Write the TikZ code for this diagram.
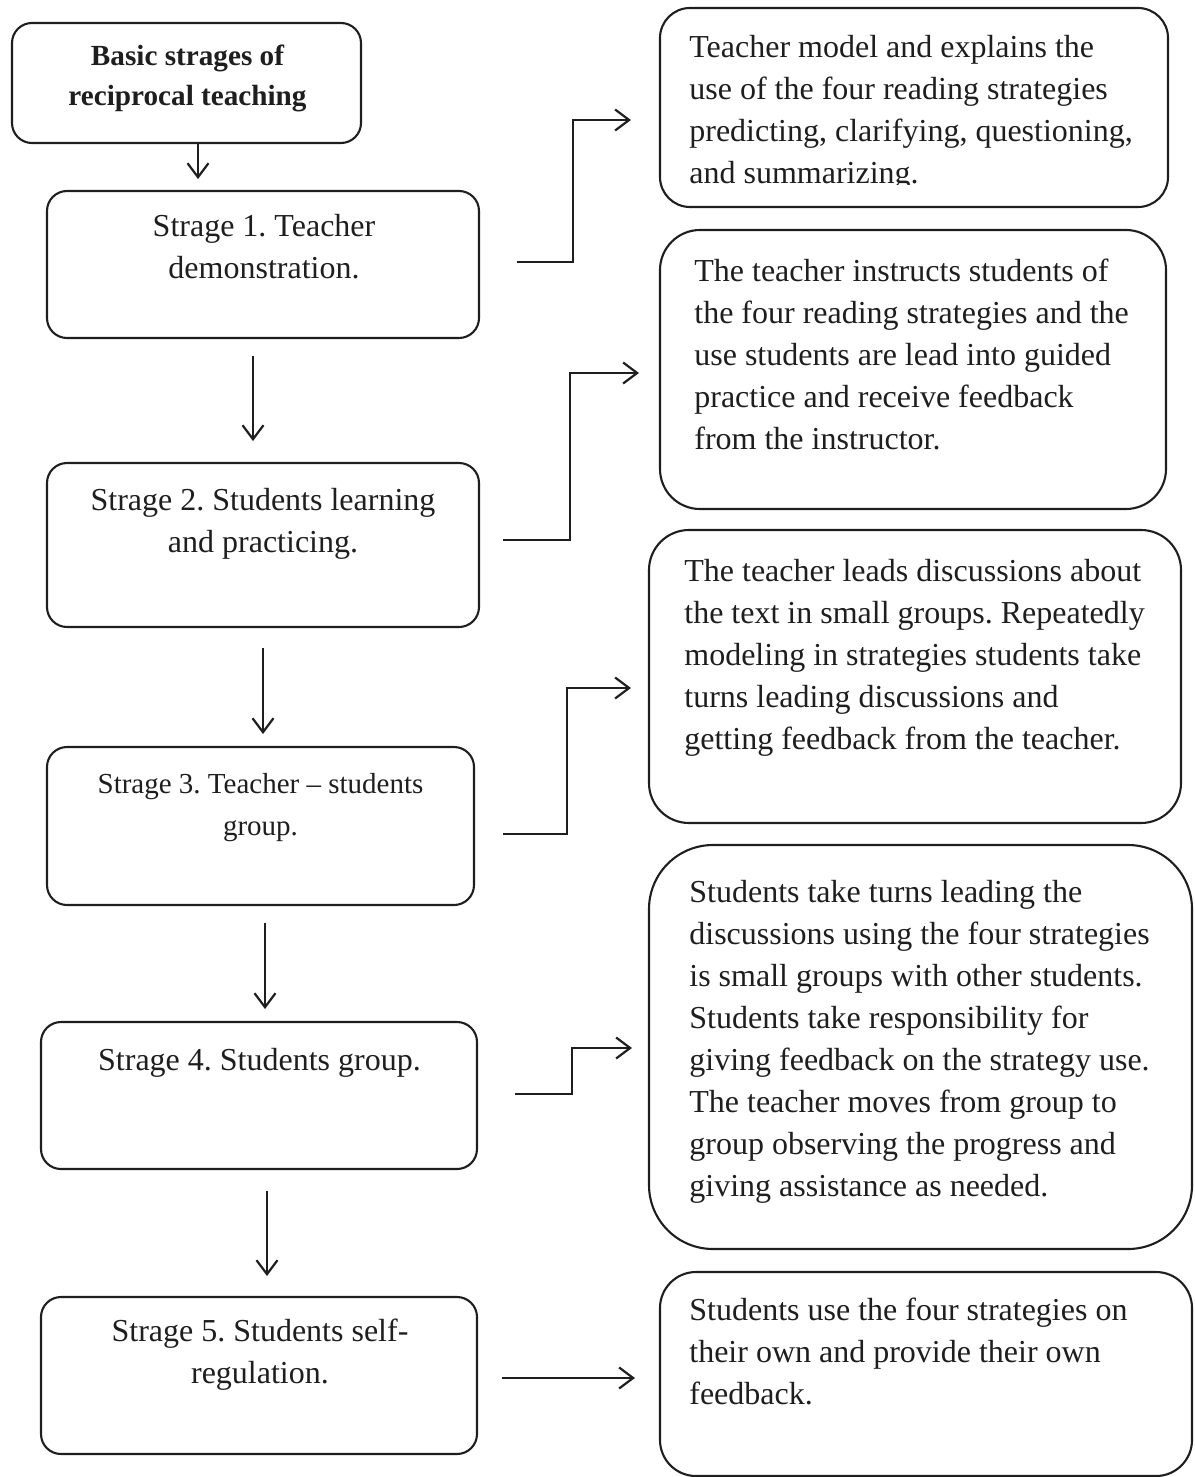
\documentclass[tikz,border=0pt]{standalone}
\usepackage{fontspec}
\setmainfont{Liberation Serif}
\usetikzlibrary{arrows.meta,calc}
\definecolor{ink}{HTML}{1E1E1E}
\frenchspacing
\newcommand\LinesL[1]{\vtop{\halign{##\hfil\cr#1\crcr}}}
\newcommand\LinesC[1]{\vtop{\halign{\hfil##\hfil\cr#1\crcr}}}
\tikzset{
  box/.style={draw=ink, line width=1.05pt, rectangle, inner sep=0pt},
  lbox/.style={box, rounded corners=10pt},
  txt/.style={inner sep=0pt, text=ink, font=\fontsize{16}{21}\selectfont},
  arr/.style={draw=ink, line width=1.1pt, -{Straight Barb[length=7pt,width=10.5pt,line width=1.1pt]}},
}
\begin{document}
\begin{tikzpicture}[x=0.5pt,y=-0.5pt]
\useasboundingbox (0,0) rectangle (1194,1477);
% left column
\node[lbox, minimum width=174.5pt, minimum height=60pt] (t0) at (186.5,83) {};
\node[lbox, minimum width=216pt, minimum height=73.5pt] (s1) at (263,264.5) {};
\node[lbox, minimum width=216pt, minimum height=82pt] (s2) at (263,545) {};
\node[lbox, minimum width=213.5pt, minimum height=79pt] (s3) at (260.5,826) {};
\node[lbox, minimum width=218pt, minimum height=73.5pt] (s4) at (259,1095.5) {};
\node[lbox, minimum width=218pt, minimum height=78.5pt] (s5) at (259,1375.5) {};
% right column
\node[box, rounded corners=15pt, minimum width=254pt, minimum height=99.5pt] (r1) at (914,107.5) {};
\node[box, rounded corners=20pt, minimum width=253pt, minimum height=139.5pt] (r2) at (913,369.5) {};
\node[box, rounded corners=20pt, minimum width=266pt, minimum height=146.5pt] (r3) at (915,676.5) {};
\node[box, rounded corners=32pt, minimum width=271.5pt, minimum height=202pt] (r4) at (920.5,1047) {};
\node[box, rounded corners=18pt, minimum width=266pt, minimum height=102pt] (r5) at (926,1374) {};
% texts left
\node[txt, anchor=base, font=\bfseries\fontsize{14.6}{19.75}\selectfont] (t0t) at ($(t0.north)+(1,44)$) {\LinesC{Basic strages of\cr reciprocal teaching}};
\node[txt, anchor=base] (s1t) at ($(s1.north)+(1,47)$) {\LinesC{Strage 1. Teacher\cr demonstration.}};
\node[txt, anchor=base] (s2t) at ($(s2.north)+(0,49)$) {\LinesC{Strage 2. Students learning\cr and practicing.}};
\node[txt, anchor=base, font=\fontsize{14.5}{21}\selectfont] (s3t) at ($(s3.north)+(0,48)$) {\LinesC{Strage 3. Teacher -- students\cr group.}};
\node[txt, anchor=base] (s4t) at ($(s4.north)+(0.5,50)$) {\LinesC{Strage 4. Students group.}};
\node[txt, anchor=base] (s5t) at ($(s5.north)+(1,46)$) {\LinesC{Strage 5. Students self-\cr regulation.}};
% texts right
\begin{scope}
\clip (0,0) rectangle (1194,184);
\node[txt, anchor=base west] (r1t) at ($(r1.north west)+(30,51)$) {\LinesL{Teacher model and explains the\cr use of the four reading strategies\cr predicting, clarifying, questioning,\cr and summarizing.}};
\end{scope}
\node[txt, anchor=base west] (r2t) at ($(r2.north west)+(35,53)$) {\LinesL{The teacher instructs students of\cr the four reading strategies and the\cr use students are lead into guided\cr practice and receive feedback\cr from the instructor.}};
\node[txt, anchor=base west] (r3t) at ($(r3.north west)+(36,53)$) {\LinesL{The teacher leads discussions about\cr the text in small groups. Repeatedly\cr modeling in strategies students take\cr turns leading discussions and\cr getting feedback from the teacher.}};
\node[txt, anchor=base west] (r4t) at ($(r4.north west)+(41,59)$) {\LinesL{Students take turns leading the\cr discussions using the four strategies\cr is small groups with other students.\cr Students take responsibility for\cr giving feedback on the strategy use.\cr The teacher moves from group to\cr group observing the progress and\cr giving assistance as needed.}};
\node[txt, anchor=base west] (r5t) at ($(r5.north west)+(30,50)$) {\LinesL{Students use the four strategies on\cr their own and provide their own\cr feedback.}};
% vertical arrows
\draw[arr] ($(t0.south)+(11.5,0)$) -- ++(0,35);
\draw[arr] ($(s1.south)+(-10,17)$) -- ++(0,85);
\draw[arr] ($(s2.south)+(0,20)$) -- ++(0,86);
\draw[arr] ($(s3.south)+(4.5,17)$) -- ++(0,86);
\draw[arr] ($(s4.south)+(8,21)$) -- ++(0,85);
% elbow connectors
\draw[arr] ($(s1.east)+(37,-2.5)$) -| ($(r1.west)+(-86,12.5)$) -- ($(r1.west)+(-28,12.5)$);
\draw[arr] ($(s2.east)+(23,-5)$) -| ($(r2.west)+(-89,3.5)$) -- ($(r2.west)+(-20,3.5)$);
\draw[arr] ($(s3.east)+(28,8)$) -| ($(r3.west)+(-81,11.5)$) -- ($(r3.west)+(-17,11.5)$);
\draw[arr] ($(s4.east)+(37,-1.5)$) -| ($(r4.west)+(-76,1)$) -- ($(r4.west)+(-16,1)$);
\draw[arr] ($(s5.east)+(24,2.5)$) -- ($(r5.west)+(-24,4)$);
\end{tikzpicture}
\end{document}
